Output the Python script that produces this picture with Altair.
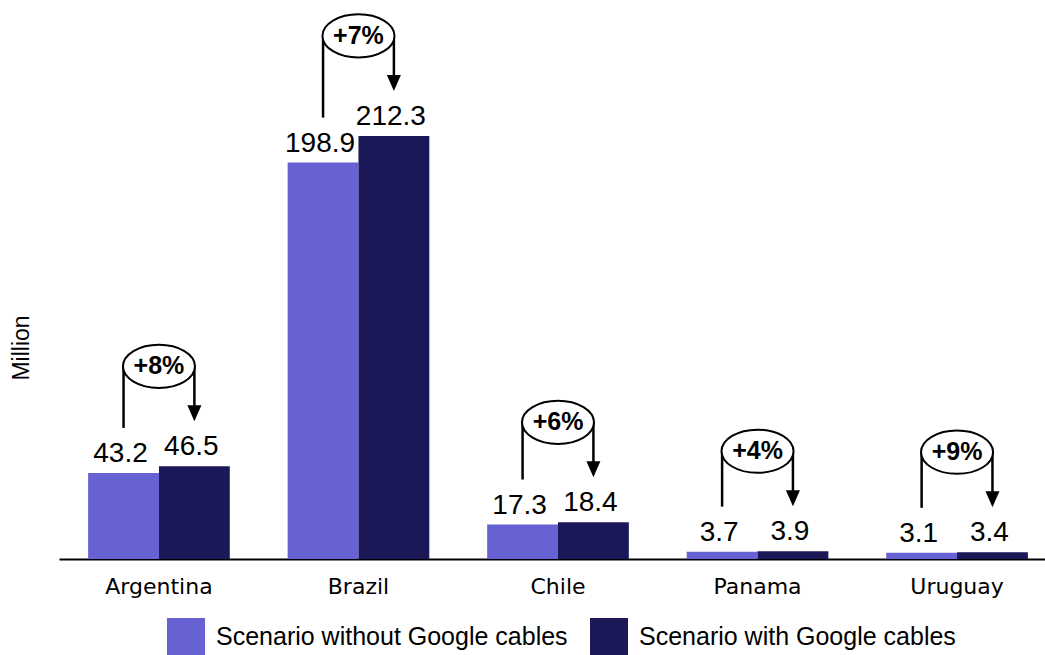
import altair as alt
import pandas as pd

countries = ["Argentina", "Brazil", "Chile", "Panama", "Uruguay"]
without_vals = [43.2, 198.9, 17.3, 3.7, 3.1]
with_vals = [46.5, 212.3, 18.4, 3.9, 3.4]
pct_labels = ["+8%", "+7%", "+6%", "+4%", "+9%"]
series = ["Scenario without Google cables", "Scenario with Google cables"]
colors = ["#6762D3", "#1B1858"]

rows = []
for c, a, b in zip(countries, without_vals, with_vals):
    rows.append({"country": c, "scenario": series[0], "value": a, "label": f"{a:.1f}"})
    rows.append({"country": c, "scenario": series[1], "value": b, "label": f"{b:.1f}"})
long_df = pd.DataFrame(rows)

wide_df = pd.DataFrame({
    "country": countries,
    "v1": without_vals,
    "v2": with_vals,
    "pct": pct_labels,
    "s1": [series[0]] * len(countries),
    "s2": [series[1]] * len(countries),
})

xscale = alt.Scale(domain=countries, range=[0, 998], paddingInner=0.29, paddingOuter=0.146)
oscale = alt.Scale(domain=series, paddingInner=0, paddingOuter=0)
yscale = alt.Scale(domain=[0, 280.5], nice=False, zero=True)

X = alt.X("country:N", scale=xscale, sort=countries,
          axis=alt.Axis(title=None, labelAngle=0, ticks=False, tickSize=0, grid=False,
                        domainColor="black", domainWidth=2, labelFont="DejaVu Sans",
                        labelFontSize=22, labelColor="black", labelPadding=17,
                        labelFontWeight="normal"))
Y = alt.Y("value:Q", scale=yscale, axis=None)

base = alt.Chart(long_df)

bars = base.mark_bar().encode(
    x=X,
    xOffset=alt.XOffset("scenario:N", scale=oscale),
    y=Y,
    color=alt.Color("scenario:N", scale=alt.Scale(domain=series, range=colors),
                    legend=alt.Legend(title=None, orient="none", legendX=108, legendY=618,
                                      direction="horizontal", symbolType="square",
                                      symbolSize=1444, symbolStrokeWidth=0,
                                      labelFont="Liberation Sans", labelFontSize=25,
                                      labelColor="black", labelOffset=11, columnPadding=22,
                                      padding=0, labelLimit=600)),
)

vals = base.mark_text(font="Liberation Sans", fontSize=28, color="black",
                      baseline="alphabetic", dy=-11, dx=-3).encode(
    x=X,
    xOffset=alt.XOffset("scenario:N", scale=oscale),
    y=Y,
    text="label:N",
)

ann = alt.Chart(wide_df)
Xa = alt.X("country:N", scale=xscale, sort=countries)

left_rule = ann.mark_rule(color="black", strokeWidth=2.5, yOffset=-45, y2Offset=-100).encode(
    x=Xa,
    xOffset=alt.XOffset("s1:N", scale=oscale),
    y=alt.Y("v1:Q", scale=yscale),
    y2=alt.Y2("v2:Q"),
)

right_rule = ann.mark_rule(color="black", strokeWidth=2.5, yOffset=-100, y2Offset=-60).encode(
    x=Xa,
    xOffset=alt.XOffset("s2:N", scale=oscale),
    y=alt.Y("v2:Q", scale=yscale),
    y2=alt.Y2("v2:Q"),
)

arrow = ann.mark_point(shape="M -0.875 -1 L 0.875 -1 L 0 1 Z", size=256, filled=True,
                       color="black", opacity=1, yOffset=-53).encode(
    x=Xa,
    xOffset=alt.XOffset("s2:N", scale=oscale),
    y=alt.Y("v2:Q", scale=yscale),
)

ellipse = ann.mark_point(shape="M -1 0 A 1 0.6 0 1 1 1 0 A 1 0.6 0 1 1 -1 0 Z",
                         size=5184, filled=True, fill="white", stroke="black",
                         strokeWidth=2, opacity=1, fillOpacity=1, yOffset=-100).encode(
    x=Xa,
    y=alt.Y("v2:Q", scale=yscale),
)

pct = ann.mark_text(font="Liberation Sans", fontSize=25, fontWeight="bold", color="black",
                    baseline="middle", yOffset=-100).encode(
    x=Xa,
    y=alt.Y("v2:Q", scale=yscale),
    text="pct:N",
)

ytitle = alt.Chart(pd.DataFrame({"t": ["Million"]})).mark_text(
    font="Liberation Sans", fontSize=23, color="black", angle=270,
    align="center", baseline="middle").encode(
    x=alt.value(-37), y=alt.value(348), text="t:N")

chart = alt.layer(bars, vals, left_rule, right_rule, arrow, ellipse, pct, ytitle).properties(
    width=986, height=559,
    autosize=alt.AutoSizeParams(type="none"),
    padding={"left": 59, "top": 0, "right": 0, "bottom": 96},
).configure_view(stroke=None)

chart.save("out.html", embed_options={"renderer": "svg", "actions": False})
